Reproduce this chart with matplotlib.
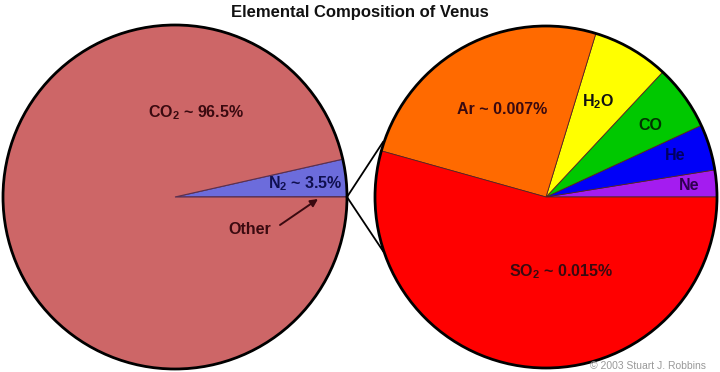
import matplotlib
matplotlib.use("Agg")
import matplotlib.pyplot as plt
from matplotlib.patches import Circle

plt.rcParams['font.family'] = ['Liberation Sans Narrow', 'Liberation Sans', 'DejaVu Sans']
plt.rcParams['mathtext.fontset'] = 'custom'
plt.rcParams['mathtext.bf'] = 'Liberation Sans:bold'
plt.rcParams['mathtext.rm'] = 'Liberation Sans:bold'

# Data
left_labels = ["Other", "N2", "CO2"]
left_values = [0.03, 3.5, 96.47]
left_colors = ["#6C6CDC", "#6C6CDC", "#CD6667"]

right_labels = ["Ne", "He", "CO", "H2O", "Ar", "SO2"]
right_values = [7, 12, 17, 20, 70, 150]  # ppm
right_colors = ["#A41CF0", "#0000F8", "#00C800", "#FFFF00", "#FF6A00", "#FF0000"]

W, H = 720, 372
fig = plt.figure(figsize=(7.2, 3.72), dpi=100)
ax = fig.add_axes([0, 0, 1, 1])

def py(y):
    return H - y

lc = (175, py(197)); lr = 172
rc = (546, py(197)); rr = 171

ax.pie(left_values, colors=left_colors, startangle=0, counterclock=True,
       center=lc, radius=lr, frame=True,
       wedgeprops=dict(edgecolor="#5a3050", linewidth=0.8))
ax.pie(right_values, colors=right_colors, startangle=0, counterclock=True,
       center=rc, radius=rr, frame=True,
       wedgeprops=dict(edgecolor="#552222", linewidth=0.6))
ax.add_patch(Circle(lc, lr, fill=False, edgecolor="black", linewidth=2.0, zorder=5))
ax.add_patch(Circle(rc, rr, fill=False, edgecolor="black", linewidth=2.0, zorder=5))

# connecting lines
ax.plot([347, 383], [py(197), py(142)], color="black", lw=1.3, zorder=6)
ax.plot([347, 383], [py(197), py(251)], color="black", lw=1.3, zorder=6)

ax.set_xlim(0, W)
ax.set_ylim(0, H)
ax.set_aspect('auto')
ax.axis('off')

fs = 11.5
dark = "#3a0a10"
ax.text(360, py(12), "Elemental Composition of Venus", ha="center", va="center",
        fontsize=12, fontweight="bold", color="#111111")
ax.text(196, py(113), r"CO$_\mathbf{2}$ ~ 96.5%", ha="center", va="center",
        fontsize=fs, fontweight="bold", color=dark)
ax.text(305, py(184), r"N$_\mathbf{2}$ ~ 3.5%", ha="center", va="center",
        fontsize=fs, fontweight="bold", color="#101050")
ax.text(250, py(229), "Other", ha="center", va="center",
        fontsize=fs, fontweight="bold", color=dark)
ax.annotate("", xy=(318, py(199)), xytext=(280, py(225)),
            arrowprops=dict(arrowstyle="-|>", color=dark, lw=1.4, shrinkA=0, shrinkB=0,
                            mutation_scale=11))
ax.text(502, py(109), "Ar ~ 0.007%", ha="center", va="center",
        fontsize=fs, fontweight="bold", color=dark)
ax.text(598, py(102), r"H$_\mathbf{2}$O", ha="center", va="center",
        fontsize=fs, fontweight="bold", color="#111111")
ax.text(650, py(125), "CO", ha="center", va="center",
        fontsize=fs, fontweight="bold", color="#003300")
ax.text(675, py(155), "He", ha="center", va="center",
        fontsize=fs, fontweight="bold", color="#000060")
ax.text(689, py(186), "Ne", ha="center", va="center",
        fontsize=fs, fontweight="bold", color="#300050")
ax.text(561, py(272), r"SO$_\mathbf{2}$ ~ 0.015%", ha="center", va="center",
        fontsize=fs, fontweight="bold", color=dark)
ax.text(590, py(366), "© 2003 Stuart J. Robbins", ha="left", va="center",
        fontsize=7.5, color="#999999", zorder=7)

fig.savefig("out.png", dpi=100)
